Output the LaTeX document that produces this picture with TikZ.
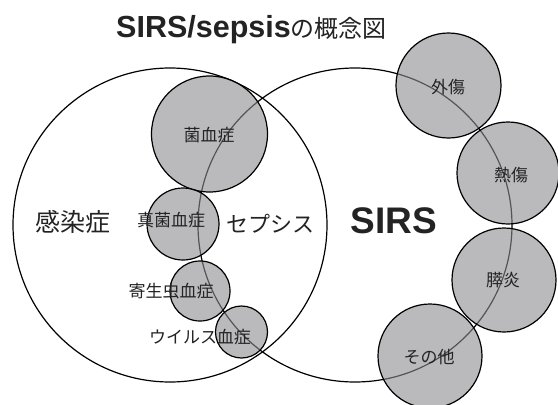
\documentclass[tikz,border=0pt]{standalone}
\usepackage{fontspec}
\setmainfont{Liberation Sans}
\newfontfamily\jp{Noto Sans CJK JP}
\definecolor{sfill}{RGB}{140,140,144}
\definecolor{ink}{RGB}{35,35,35}
\begin{document}
\begin{tikzpicture}[x=1pt,y=-1pt,
  big/.style={circle,draw=black,line width=1.2pt,inner sep=0pt},
  small/.style={circle,draw=black,line width=1.2pt,fill=sfill,fill opacity=0.6,draw opacity=1,inner sep=0pt},
  lab/.style={font=\jp\fontsize{17}{17}\selectfont,inner sep=0pt,text=ink},
  biglab/.style={font=\jp\fontsize{#1}{#1}\selectfont,inner sep=0pt,text=ink}]
\useasboundingbox (0,0) rectangle (558,405);
% large sets
\node[big,minimum size=314pt] (inf) at (170,225) {};
\node[big,minimum size=314pt] (sirs) at (355,225) {};
% infection-side circles
\node[small,minimum size=116pt] (kin) at (209.5,134) {};
\node[small,minimum size=72pt] (shin) at (183,224) {};
\node[small,minimum size=60pt] (kisei) at (200,291) {};
\node[small,minimum size=52pt] (virus) at (241.5,332) {};
% SIRS-side circles
\node[small,minimum size=105pt] (gai) at (448.5,85.5) {};
\node[small,minimum size=102pt] (netsu) at (508,173) {};
\node[small,minimum size=104pt] (sui) at (504,280) {};
\node[small,minimum size=104pt] (other) at (430,356) {};
% title
\node[anchor=base west,inner sep=0pt,text=ink] (title) at (116,37)
  {\fontsize{30.5}{32}\selectfont\bfseries SIRS/sepsis{\jp\mdseries\fontsize{24}{24}\selectfont の概念図}};
% labels
\node[biglab=25] (lkan) at (73,222) {感染症};
\node[biglab=22] (lsep) at (270,224) {セプシス};
\node[inner sep=0pt,text=ink,font=\fontsize{37}{37}\selectfont\bfseries] (lsirs) at (394,220.5) {SIRS};
\node[lab] (lkin) at (209,135) {菌血症};
\node[lab] (lshin) at (171,220) {真菌血症};
\node[lab] (lkisei) at (171,291) {寄生虫血症};
\node[lab] (lvirus) at (200,337) {ウイルス血症};
\node[lab] (lgai) at (448,87) {外傷};
\node[lab] (lnetsu) at (511,175) {熱傷};
\node[lab] (lsui) at (503,280) {膵炎};
\node[lab] (lother) at (429,357) {その他};
\end{tikzpicture}
\end{document}
